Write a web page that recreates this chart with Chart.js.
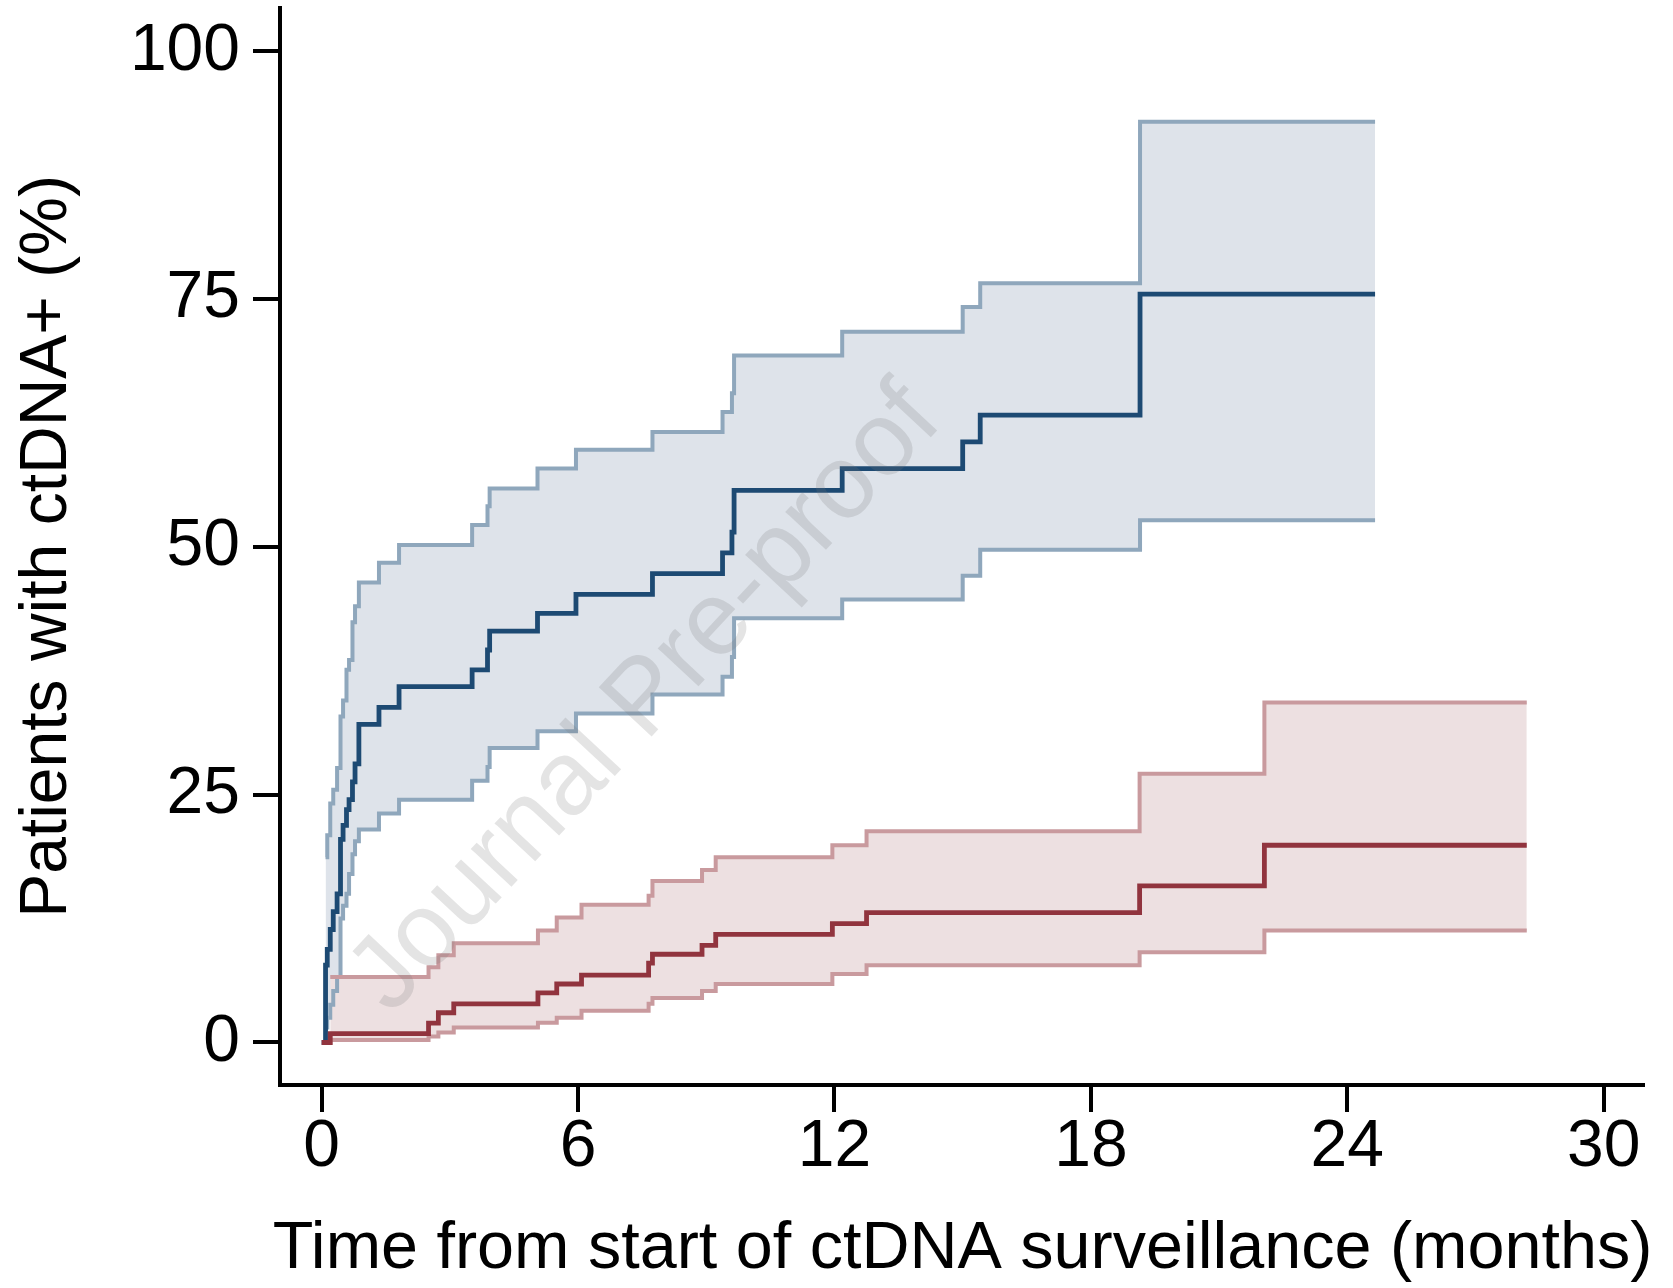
<!DOCTYPE html>
<html lang="en">
<head>
<meta charset="UTF-8">
<title>Patients with ctDNA+ over time</title>
<script src="https://cdn.jsdelivr.net/npm/chart.js"></script>
<style>
    body { margin: 0; padding: 0; overflow: hidden; background: white; }
    canvas { display: block; }
</style>
</head>
<body>
<canvas id="kmChart" width="1673" height="1288"></canvas>
<script>
// step times (months) and cumulative % ctDNA+ after each step
const blueMonths = [0, 0.09, 0.13, 0.2, 0.27, 0.36, 0.44, 0.5, 0.58, 0.64, 0.72, 0.78, 0.87, 1.34, 1.81, 3.52, 3.88, 3.93, 5.05, 5.95, 7.74, 9.38, 9.6, 9.65, 12.18, 15.0, 15.41, 19.15, 24.65];
const blueEst   = [0, 7.8, 9.4, 11.4, 13.2, 15.0, 20.5, 21.9, 23.5, 24.5, 26.3, 28.1, 32.1, 33.8, 35.9, 37.6, 39.6, 41.5, 43.3, 45.2, 47.3, 49.4, 51.5, 55.7, 57.9, 60.6, 63.3, 75.5, 75.5];
const blueLower = [0, 1.5, 2.5, 3.8, 5.2, 6.6, 12.5, 13.8, 15.0, 17.0, 19.0, 20.3, 21.5, 23.1, 24.5, 26.4, 27.8, 29.7, 31.4, 33.2, 35.1, 36.9, 38.9, 42.8, 44.7, 47.1, 49.7, 52.7, 52.7];
const blueUpper = [0, 18.7, 20.9, 24.1, 25.5, 27.7, 32.9, 34.5, 37.6, 38.6, 42.4, 44.0, 46.4, 48.4, 50.2, 52.2, 54.1, 55.9, 57.9, 59.8, 61.6, 63.6, 65.5, 69.3, 71.7, 74.2, 76.6, 92.9, 92.9];

const redMonths = [0, 0.2, 2.5, 2.73, 3.09, 5.06, 5.5, 6.08, 7.65, 7.74, 8.9, 9.22, 11.95, 12.75, 19.14, 22.06, 28.2];
const redEst    = [0, 0.9, 1.95, 3.0, 3.9, 5.0, 5.9, 6.8, 8.0, 8.9, 9.8, 10.9, 12.0, 13.1, 15.8, 19.9, 19.9];
const redLower  = [0, 0.24, 0.6, 1.0, 1.5, 2.0, 2.5, 3.2, 3.9, 4.5, 5.2, 5.9, 6.9, 7.8, 9.1, 11.3, 11.3];
const redUpper  = [0, 6.6, 7.6, 8.8, 10.0, 11.3, 12.6, 13.9, 14.8, 16.3, 17.4, 18.7, 19.9, 21.3, 27.1, 34.3, 34.3];

const xTicks = [0, 6, 12, 18, 24, 30];
const yTicks = [0, 25, 50, 75, 100];
const xTitle = 'Time from start of ctDNA surveillance (months)';

const fontFamily = '"Liberation Sans", Arial, Helvetica, sans-serif';

function pts(xs, ys) {
    return xs.map((x, i) => ({ x: x, y: ys[i] }));
}

// first segment of a CI line is the jump up from 0, not drawn in the original
function hideFirst(col) {
    return { borderColor: c => c.p0DataIndex === 0 ? 'rgba(0,0,0,0)' : col };
}

const watermark = {
    id: 'watermark',
    afterDatasetsDraw(chart) {
        const ctx = chart.ctx;
        const x = chart.scales.x.getPixelForValue(7.6);
        const y = chart.scales.y.getPixelForValue(34.6);
        ctx.save();
        ctx.translate(x, y);
        ctx.rotate(-47 * Math.PI / 180);
        ctx.font = '105px ' + fontFamily;
        ctx.fillStyle = 'rgba(120,120,120,0.2)';
        ctx.textAlign = 'center';
        ctx.textBaseline = 'middle';
        ctx.fillText('Journal Pre-proof', 0, 0);
        ctx.restore();
    }
};

// x title drawn by hand: the scale title gets squeezed to the axis width
const xTitlePlugin = {
    id: 'xTitle',
    afterDraw(chart) {
        const ctx = chart.ctx;
        const area = chart.chartArea;
        ctx.save();
        ctx.font = '66.5px ' + fontFamily;
        ctx.fillStyle = '#000';
        ctx.textAlign = 'center';
        ctx.textBaseline = 'middle';
        ctx.fillText(xTitle, (area.left + area.right) / 2 + 1, chart.height - 38);
        ctx.restore();
    }
};

const blueLine = '#1d4a73', blueCi = '#8fa7bc', blueFill = '#dee3ea';
const redLine = '#91343e', redCi = '#c99a9e', redFill = '#ede0e1';

const ctx = document.getElementById('kmChart').getContext('2d');
new Chart(ctx, {
    type: 'line',
    data: {
        datasets: [
            { label: 'upper', data: pts(blueMonths, blueUpper), borderColor: blueCi, borderWidth: 4, backgroundColor: blueFill, fill: '+1', order: 3, segment: hideFirst(blueCi) },
            { label: 'lower', data: pts(blueMonths, blueLower), borderColor: blueCi, borderWidth: 4, fill: false, order: 3, segment: hideFirst(blueCi) },
            { label: 'estimate', data: pts(blueMonths, blueEst), borderColor: blueLine, borderWidth: 4.8, fill: false, order: 1 },
            { label: 'upper', data: pts(redMonths, redUpper), borderColor: redCi, borderWidth: 4, backgroundColor: redFill, fill: '+1', order: 2, segment: hideFirst(redCi) },
            { label: 'lower', data: pts(redMonths, redLower), borderColor: redCi, borderWidth: 4, fill: false, order: 2 },
            { label: 'estimate', data: pts(redMonths, redEst), borderColor: redLine, borderWidth: 4.8, fill: false, order: 0 }
        ]
    },
    options: {
        responsive: false,
        animation: false,
        elements: {
            line: { stepped: 'before', tension: 0 },
            point: { radius: 0, hoverRadius: 0 }
        },
        layout: { padding: { top: 8, right: 30, left: 0, bottom: 0 } },
        plugins: {
            legend: { display: false },
            tooltip: { enabled: false },
            filler: { drawTime: 'beforeDatasetsDraw' }
        },
        scales: {
            x: {
                type: 'linear',
                min: -0.976,
                max: 30.92,
                afterBuildTicks: s => { s.ticks = xTicks.map(v => ({ value: v })); },
                afterFit: s => { s.height = 203; s.paddingLeft = 0; s.paddingRight = 0; },
                grid: { drawOnChartArea: false, drawTicks: true, tickLength: 27, color: '#000', lineWidth: 4 },
                border: { display: true, color: '#000', width: 4 },
                ticks: { font: { family: fontFamily, size: 66 }, color: '#000', padding: -4, maxRotation: 0, autoSkip: false },
                title: { display: false }
            },
            y: {
                type: 'linear',
                min: -4.29,
                max: 104.37,
                afterBuildTicks: s => { s.ticks = yTicks.map(v => ({ value: v })); },
                afterFit: s => { s.width = 280; s.paddingTop = 0; s.paddingBottom = 0; },
                grid: { drawOnChartArea: false, drawTicks: true, tickLength: 27, color: '#000', lineWidth: 4 },
                border: { display: true, color: '#000', width: 4 },
                ticks: { font: { family: fontFamily, size: 66 }, color: '#000', padding: 13, autoSkip: false },
                title: { display: true, text: 'Patients with ctDNA+ (%)', color: '#000', font: { family: fontFamily, size: 66, lineHeight: 1.15 }, padding: { top: 10, bottom: 0 } }
            }
        }
    },
    plugins: [watermark, xTitlePlugin]
});
</script>
</body>
</html>
